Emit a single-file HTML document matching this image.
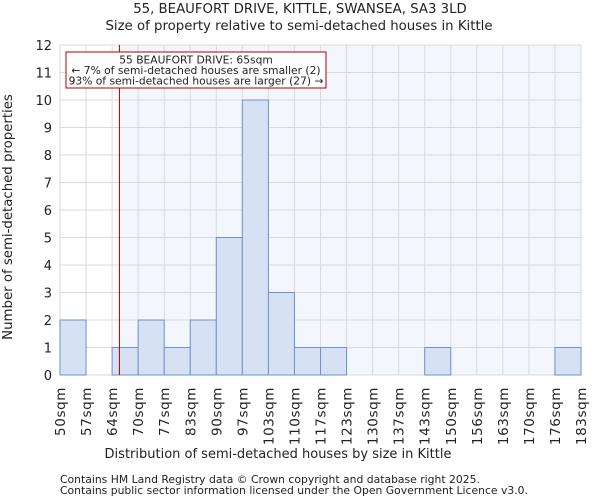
<!DOCTYPE html>
<html><head><meta charset="utf-8"><style>
body{margin:0;background:#fff;font-family:"DejaVu Sans","Liberation Sans",sans-serif}
svg text{font-family:"DejaVu Sans","Liberation Sans",sans-serif;fill:#222}
</style></head><body>
<svg id="c" width="600" height="500" xmlns="http://www.w3.org/2000/svg">
<text x="300" y="13" text-anchor="middle" font-size="13.3">55, BEAUFORT DRIVE, KITTLE, SWANSEA, SA3 3LD</text>
<text x="299" y="30" text-anchor="middle" font-size="13.3">Size of property relative to semi-detached houses in Kittle</text>
<text x="278" y="458" text-anchor="middle" font-size="13">Distribution of semi-detached houses by size in Kittle</text>
<text transform="translate(12,217) rotate(-90)" text-anchor="middle" font-size="13.3">Number of semi-detached properties</text>
<text x="60" y="483" font-size="10.8">Contains HM Land Registry data © Crown copyright and database right 2025.</text>
<text x="60" y="494" font-size="10.8">Contains public sector information licensed under the Open Government Licence v3.0.</text>
<g id="plot"></g>
</svg>
<script>
const binLabels=["50sqm","57sqm","64sqm","70sqm","77sqm","83sqm","90sqm","97sqm","103sqm","110sqm","117sqm","123sqm","130sqm","137sqm","143sqm","150sqm","156sqm","163sqm","170sqm","176sqm","183sqm"];
const counts=[2,0,1,2,1,2,5,10,3,1,1,0,0,0,1,0,0,0,0,1];
const yTicks=[0,1,2,3,4,5,6,7,8,9,10,11,12];
const markerBin=2.28;
const L=60,R=581,T=45,B=375,yMax=12;
const NS="http://www.w3.org/2000/svg";
const g=document.getElementById('plot');
const bw=(R-L)/counts.length;
const xs=i=>L+i*bw;
const ys=v=>B-(v/yMax)*(B-T);
function mk(t,a){const e=document.createElementNS(NS,t);for(const k in a)e.setAttribute(k,a[k]);g.appendChild(e);return e;}
const mx=xs(markerBin);
const bg=mk('rect',{x:mx,y:T,width:R-mx,height:B-T,fill:'#f3f6fc'});


yTicks.forEach(v=>{const l=mk('line',{x1:L,x2:R,y1:ys(v),y2:ys(v),stroke:'#dadada','stroke-width':1});


const t=mk('text',{x:L-8,y:ys(v)+5,'text-anchor':'end','font-size':'13'});t.textContent=v;

});
binLabels.forEach((s,i)=>{const l=mk('line',{x1:xs(i),x2:xs(i),y1:T,y2:B,stroke:'#dadada','stroke-width':1});


const t=mk('text',{transform:`translate(${xs(i)+5},${B+12}) rotate(-90)`,'text-anchor':'end','font-size':'13.5','letter-spacing':'0.6'});t.textContent=s;

});
counts.forEach((c,i)=>{if(!c)return;const r=mk('rect',{x:xs(i),y:ys(c),width:bw,height:B-ys(c),fill:'#d6e2f3',stroke:'#6b93cf','stroke-width':1});

});
const ml=mk('line',{x1:mx,x2:mx,y1:T,y2:B,stroke:'#a00000','stroke-width':1});


const box=mk('rect',{x:66,y:52,width:260,height:36,fill:'#fff',stroke:'#b00000','stroke-width':1});


["55 BEAUFORT DRIVE: 65sqm","← 7% of semi-detached houses are smaller (2)","93% of semi-detached houses are larger (27) →"].forEach((s,i)=>{const t=mk('text',{x:196,y:63.5+i*10.5,'text-anchor':'middle','font-size':'10.7'});t.textContent=s;

});
</script>
</body></html>
